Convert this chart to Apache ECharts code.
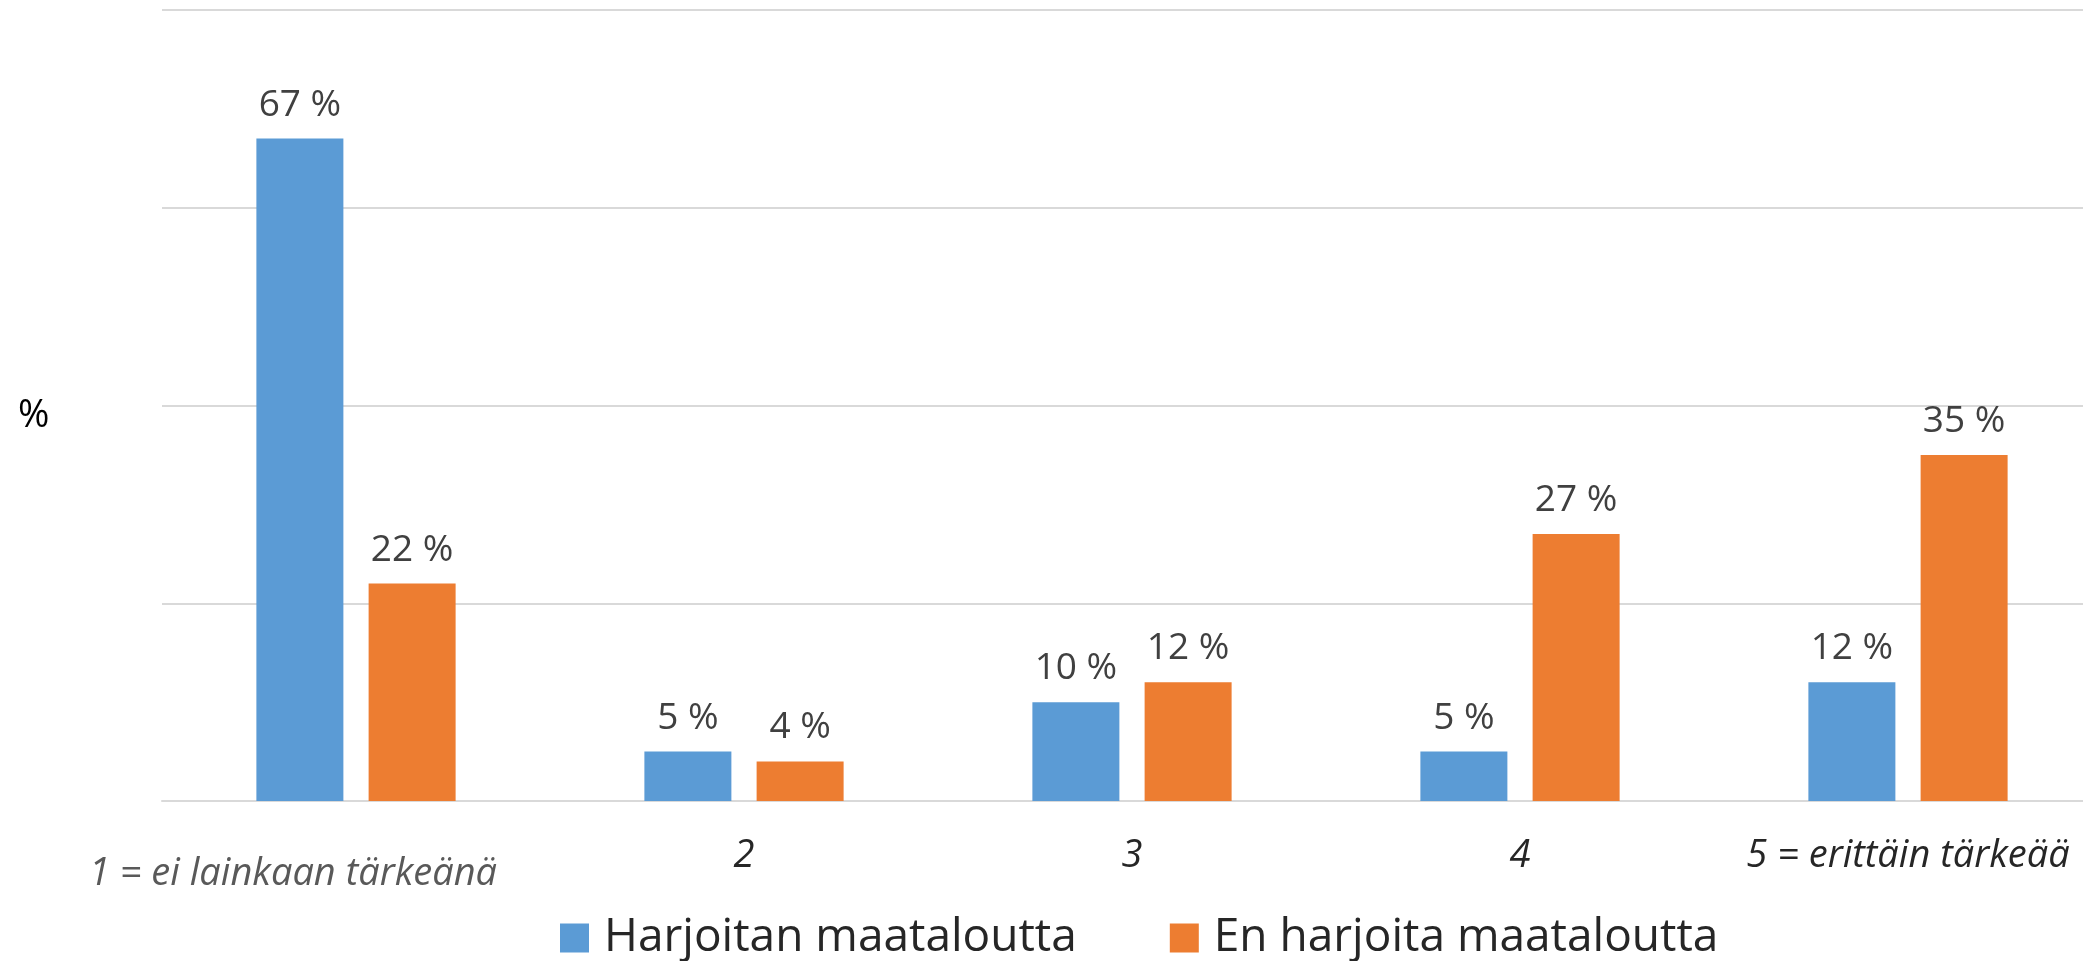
<!DOCTYPE html>
<html>
<head>
<meta charset="utf-8">
<title>Maatalous</title>
<script src="https://cdn.jsdelivr.net/npm/echarts@6/dist/echarts.min.js"></script>
<style>
html, body { margin: 0; padding: 0; background: #fff; }
#chart { width: 2083px; height: 961px; }
</style>
</head>
<body>
<div id="chart"></div>
<script>
// luokat ja sarjat
var categories = ['1 = ei lainkaan tärkeänä', '2', '3', '4', '5 = erittäin tärkeää'];
var harjoitan = [67, 5, 10, 5, 12];
var enHarjoita = [22, 4, 12, 27, 35];
var seriesNames = ['Harjoitan maataloutta', 'En harjoita maataloutta'];
var yTicks = [0, 20, 40, 60, 80];

var font = "'Open Sans', 'Noto Sans', sans-serif";

function initChart()
{
    var myChart = echarts.init(document.getElementById('chart'));
    var options =
    {
        backgroundColor: '#fff',
        animation: false,
        title: {
            text: '%',
            left: 13,
            top: 392,
            textStyle: { fontFamily: font, fontSize: 38, fontWeight: 'normal', color: '#000' }
        },
        legend: {
            left: 555,
            top: 910,
            icon: 'rect',
            itemWidth: 29,
            itemHeight: 29,
            itemGap: 93,
            data: seriesNames,
            textStyle: { fontFamily: font, fontSize: 46, color: '#262626', padding: [0, 0, 0, 10] }
        },
        grid: {
            left: 162,
            width: 1940,
            top: 10,
            bottom: 160,
            outerBoundsMode: 'none' //标签不要挤压网格
        },
        xAxis: [
        {
            type: 'category',
            data: categories,
            axisTick: { show: false },
            axisLine: { lineStyle: { color: '#d9d9d9', width: 2 } },
            axisLabel: {
                margin: 36,
                formatter: function (v, i) {
                    if (i == 0) return '{first|' + v + '}';
                    return '{mid|' + v + '}';
                },
                rich: {
                    first: { fontFamily: font, fontSize: 38, fontStyle: 'italic', color: '#595959', padding: [18, 126, 0, 0] },
                    mid: { fontFamily: font, fontSize: 38, fontStyle: 'italic', color: '#262626' }
                }
            }
        }],
        yAxis: [
        {
            type: 'value',
            min: yTicks[0],
            max: yTicks[yTicks.length - 1],
            interval: yTicks[1] - yTicks[0],
            axisLabel: { show: false },
            axisTick: { show: false },
            axisLine: { show: false },
            splitLine: { lineStyle: { color: '#d9d9d9', width: 2 } }
        }],
        series: [
        {
            name: seriesNames[0],
            type: 'bar',
            data: harjoitan,
            barWidth: 87,
            barGap: '29%',
            itemStyle: { color: '#5b9bd5' },
            label: {
                show: true, position: 'top', distance: 15,
                formatter: '{c} %',
                fontFamily: font, fontSize: 37, color: '#404040'
            }
        },
        {
            name: seriesNames[1],
            type: 'bar',
            data: enHarjoita,
            barWidth: 87,
            barGap: '29%',
            itemStyle: { color: '#ed7d31' },
            label: {
                show: true, position: 'top', distance: 15,
                formatter: '{c} %',
                fontFamily: font, fontSize: 37, color: '#404040'
            }
        }]
    };
    myChart.setOption(options, true);
}

initChart();
</script>
</body>
</html>
